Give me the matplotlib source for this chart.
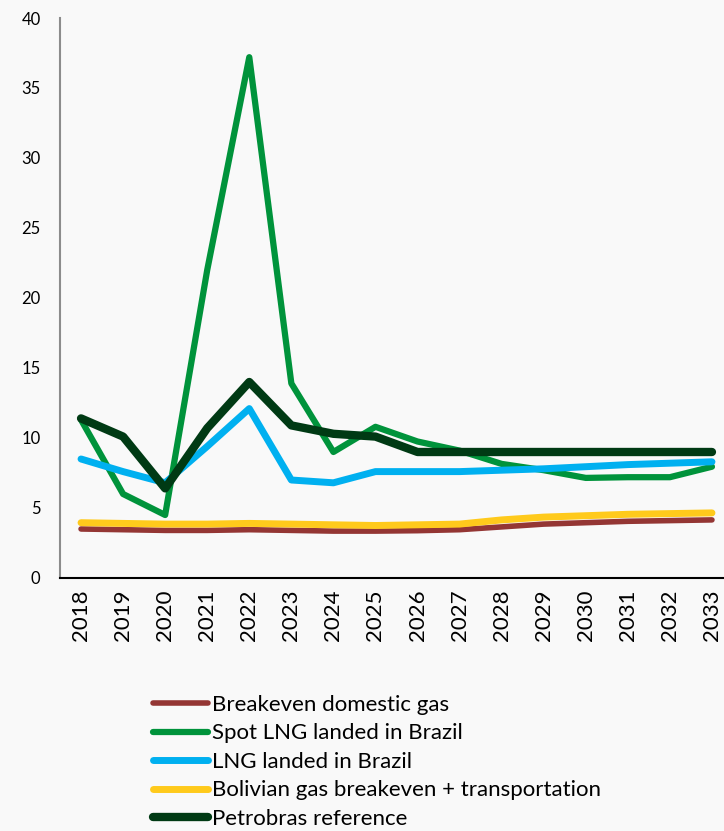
import numpy as np
import matplotlib.pyplot as plt

plt.rcParams['font.family'] = ['Lato', 'DejaVu Sans']

years = [str(y) for y in range(2018, 2034)]
breakeven_domestic = [3.5, 3.45, 3.4, 3.4, 3.45, 3.4, 3.35, 3.35, 3.38, 3.45, 3.65, 3.85, 3.95, 4.05, 4.1, 4.15]
spot_lng = [11.3, 6.0, 4.5, 22.0, 37.2, 13.9, 9.0, 10.8, 9.75, 9.1, 8.15, 7.7, 7.15, 7.2, 7.2, 7.95]
lng_landed = [8.5, 7.6, 6.8, 9.4, 12.1, 7.0, 6.8, 7.6, 7.6, 7.6, 7.7, 7.8, 7.95, 8.1, 8.2, 8.3]
bolivian = [3.95, 3.9, 3.85, 3.85, 3.9, 3.85, 3.8, 3.75, 3.8, 3.85, 4.15, 4.35, 4.45, 4.55, 4.6, 4.65]
petrobras = [11.4, 10.1, 6.4, 10.7, 14.0, 10.9, 10.3, 10.1, 9.0, 9.0, 9.0, 9.0, 9.0, 9.0, 9.0, 9.0]

series = [
    ("Breakeven domestic gas", breakeven_domestic, "#943634", 4.0),
    ("Spot LNG landed in Brazil", spot_lng, "#00933B", 4.5),
    ("LNG landed in Brazil", lng_landed, "#00B0F0", 5.0),
    ("Bolivian gas breakeven + transportation", bolivian, "#FFCA1C", 5.0),
    ("Petrobras reference", petrobras, "#003A14", 6.0),
]

fig = plt.figure(figsize=(7.24, 8.31), dpi=100, facecolor='#f9f9f9')
ax = fig.add_axes([60/724, 253/831, 673/724, 560/831])
ax.set_facecolor('none')

x = np.arange(len(years))
for name, vals, col, lw in series:
    ax.plot(x, vals, color=col, lw=lw, label=name,
            solid_capstyle='round', solid_joinstyle='round')

ax.set_xlim(-0.5, len(years) - 0.5)
ax.set_ylim(0, 40)
ax.set_yticks(range(0, 41, 5))
ax.set_xticks(x)
ax.set_xticklabels(years, rotation=90, fontsize=16)
ax.tick_params(axis='y', length=0, labelsize=12, pad=14)
ax.tick_params(axis='x', length=0, pad=8)
for s in ['top', 'right']:
    ax.spines[s].set_visible(False)
ax.spines['left'].set_color('#8c8c8c')
ax.spines['left'].set_linewidth(1.5)
ax.spines['bottom'].set_color('black')
ax.spines['bottom'].set_linewidth(1.5)

fig.legend(loc='upper left', bbox_to_anchor=(153/724, 1 - 695/831),
           frameon=False, fontsize=16, handlelength=2.48, handletextpad=0.18,
           labelspacing=0.38, borderaxespad=0, borderpad=0)

fig.savefig('out.png', dpi=100, facecolor=fig.get_facecolor())
